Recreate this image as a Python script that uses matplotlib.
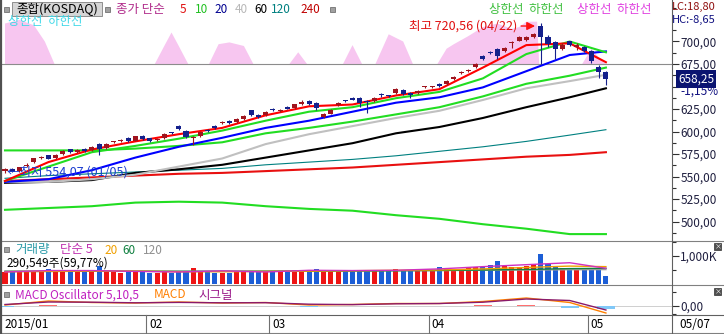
import matplotlib
matplotlib.use('Agg')
import matplotlib.pyplot as plt
from matplotlib.lines import Line2D
from matplotlib.patches import Rectangle
import numpy as np

plt.rcParams['font.family'] = ['Noto Sans CJK KR', 'DejaVu Sans']

W, H = 724, 334

# ---- daily candles (KOSDAQ, 2015-01-05 .. 2015-05-07) ----
opens = [556.0, 558.5, 556.0, 561.5, 566.0, 570.5, 573.5, 571.0, 574.5, 580.0,
         577.5, 581.0, 579.0, 586.0, 582.0, 588.0, 589.0, 592.5, 590.0, 595.5,
         592.5, 590.5, 593.0, 598.5, 606.0, 601.0, 592.5, 595.0, 602.0, 606.0,
         609.5, 611.5, 610.5, 614.0, 623.5, 618.0, 618.5, 625.0, 623.0, 627.5,
         626.0, 631.0, 633.5, 632.0, 616.5, 620.0, 629.0, 634.5, 637.0, 637.0,
         633.0, 634.0, 642.0, 639.5, 643.0, 646.0, 643.0, 643.0, 649.0, 649.0,
         653.0, 653.0, 658.5, 665.0, 667.0, 671.5, 684.0, 688.0, 692.0, 689.0,
         698.0, 701.0, 701.5, 705.0, 717.0, 705.0, 699.0, 692.0, 700.0, 693.5,
         694.0, 689.0, 672.0, 666.0]
closes = [558.0, 555.5, 560.0, 563.0, 570.0, 571.0, 570.0, 574.0, 578.0, 577.0,
          580.0, 578.5, 583.0, 580.5, 586.5, 588.5, 590.5, 589.0, 594.5, 592.0,
          590.0, 591.0, 597.0, 598.0, 602.5, 594.0, 593.5, 599.0, 600.5, 603.5,
          610.5, 609.5, 613.5, 617.5, 618.5, 616.0, 622.0, 623.5, 623.5, 625.5,
          630.0, 633.0, 631.0, 626.0, 619.5, 623.5, 631.5, 633.5, 635.5, 632.0,
          632.5, 637.5, 640.5, 639.0, 647.0, 642.0, 641.0, 645.0, 649.5, 649.5,
          650.5, 656.0, 660.5, 666.0, 668.0, 675.0, 681.0, 687.0, 684.0, 693.0,
          698.5, 705.0, 704.5, 708.0, 705.0, 697.0, 692.0, 696.0, 696.5, 696.0,
          689.0, 678.0, 666.0, 658.25]
highs = [559.5, 559.5, 561.0, 564.5, 571.0, 572.5, 574.0, 575.0, 579.0, 581.0,
         581.0, 582.0, 584.0, 587.0, 587.5, 590.0, 592.0, 593.5, 595.5, 596.5,
         593.0, 592.5, 598.0, 600.0, 607.0, 602.0, 595.0, 600.0, 603.0, 607.0,
         612.0, 612.5, 614.5, 618.5, 624.0, 619.0, 623.0, 626.0, 625.0, 628.5,
         631.0, 634.5, 634.5, 633.0, 621.0, 624.5, 632.5, 635.5, 638.0, 638.0,
         634.5, 638.5, 642.5, 641.0, 648.0, 647.0, 644.0, 646.0, 651.0, 651.0,
         654.0, 657.0, 661.5, 667.5, 669.5, 676.0, 685.0, 690.0, 693.0, 694.0,
         700.5, 706.0, 706.5, 709.0, 720.56, 707.0, 700.0, 698.0, 701.0, 698.5,
         695.0, 691.0, 674.0, 667.0]
lows = [554.07, 555.0, 555.5, 560.5, 565.0, 569.5, 569.0, 570.0, 573.5, 576.0,
        576.5, 577.5, 578.0, 574.0, 581.0, 587.0, 588.0, 588.0, 589.0, 591.0,
        588.5, 589.0, 592.0, 597.0, 601.5, 592.5, 585.0, 594.0, 599.0, 602.5,
        608.5, 608.5, 609.5, 613.0, 617.5, 615.0, 617.5, 622.5, 622.0, 624.5,
        625.0, 630.0, 630.0, 624.0, 615.5, 619.0, 628.0, 632.5, 634.5, 627.0,
        621.0, 633.0, 638.0, 638.0, 642.0, 640.5, 637.5, 642.0, 648.0, 648.0,
        649.5, 652.0, 657.5, 664.0, 666.0, 670.5, 679.0, 686.0, 681.0, 688.0,
        693.0, 700.0, 701.0, 704.0, 675.0, 694.0, 681.0, 690.5, 695.0, 690.5,
        688.5, 676.0, 660.0, 652.0]
volumes_k = [420, 430, 440, 450, 470, 480, 550, 470, 440, 430,
             420, 450, 470, 640, 480, 420, 410, 430, 440, 430,
             410, 400, 420, 400, 450, 480, 560, 440, 420, 400,
             410, 400, 420, 430, 450, 420, 440, 430, 460, 480,
             500, 470, 490, 520, 480, 470, 460, 480, 500, 470,
             460, 480, 500, 490, 520, 480, 470, 490, 500, 510,
             620, 520, 540, 550, 560, 600, 620, 680, 820, 640,
             600, 620, 650, 700, 1060, 700, 600, 560, 580, 560,
             540, 530, 500, 290.5]

# ---- overlay lines, read at every 6th session ----
sample_idx = [0, 6, 12, 18, 24, 30, 36, 42, 48, 54, 60, 66, 72, 78, 83]
ma5 = [545, 566, 580, 589, 597, 604, 618, 628, 630, 640, 647, 671, 696, 698, 677]
ma10 = [545, 561, 577, 584, 592, 601, 612, 622, 627, 637, 644, 659, 686, 700, 688]
ma20 = [544, 547, 557, 571, 583, 593, 604, 612, 622, 632, 638, 649, 667, 685, 689]
ma40 = [544, 544, 547, 552, 561, 570, 586, 597, 606, 615, 623, 635, 648, 656, 663]
ma60 = [543, 544, 546, 554, 558, 563, 571, 579, 587, 598, 605, 615, 627, 638, 648]
ma120 = [548, 551, 553, 555, 557, 559, 563, 566, 569, 573, 578, 583, 589, 596, 602]
ma240 = [545, 547, 549, 551, 553, 554, 556, 558, 560, 563, 566, 569, 572, 574, 577]
band_up = [579, 579, 579, 581, 584, 588, 598, 604, 611, 619, 627, 639, 653, 662, 671]
band_low = [513, 515, 517, 521, 522, 521, 517, 514, 512, 507, 503, 497, 492, 486, 486]

# pink band above the 675 line
pink_idx = [0, 2, 4, 5.5, 7, 20.5, 22, 23, 24, 25.5, 28, 29.5, 31, 33, 34.5,
            39, 40.5, 42, 46.5, 48, 49.5, 51, 53, 55, 56.5, 59.5, 61, 62, 64,
            66, 68, 70, 71, 72, 73.5, 73.8, 79.5, 81, 82.5, 83]
pink_val = [720, 724, 718, 700, 672, 672, 695, 710, 695, 672, 672, 697, 699, 695, 672,
            672, 688, 672, 672, 696, 672, 672, 708, 700, 672, 672, 692, 697, 706,
            716, 720, 714, 716, 722, 722, 672, 672, 692, 678, 675]

# volume moving averages (K)
vma5 = [430, 480, 480, 450, 430, 470, 430, 490, 480, 490, 540, 620, 690, 760, 560]
vma20 = [440, 450, 460, 460, 440, 440, 450, 460, 475, 490, 500, 540, 590, 640, 620]
vma60 = [450, 450, 455, 455, 450, 450, 455, 460, 465, 475, 485, 500, 520, 550, 560]
vma120 = [460, 460, 460, 460, 460, 460, 460, 465, 470, 475, 480, 490, 500, 510, 515]

# MACD oscillator 5,10,5
macd = [1.0, 5.0, 3.5, 3.0, 4.0, 3.0, 3.5, 1.0, 1.5, 2.5, 2.5, 4.5, 8.0, 3.5, -7.0]
signal = [1.5, 4.0, 3.8, 3.2, 3.6, 3.2, 3.3, 1.8, 1.4, 2.2, 2.5, 3.8, 7.0, 5.5, -4.0]
osc = [-0.5, 1.0, -0.3, -0.2, 0.4, -0.2, 0.2, -0.8, 0.1, 0.3, 0.2, 0.7, 1.0, -2.0, -3.0]

price_ticks = [500, 525, 550, 575, 600, 625, 650, 675, 700]
month_starts = [0, 20, 37, 59, 81]
month_labels = ['2015/01', '02', '03', '04', '05']

last_price = '658,25'
last_change = '-1,15%'

# ---- geometry in pixels ----
PITCH = 7.24
X0 = 5
AX_RIGHT = 672
KFS = 9  # korean label size


def px2idx(x):
    return (x - X0) / PITCH


def fig_axes(x0, y0, x1, y1):
    return fig.add_axes([x0 / W, 1 - y1 / H, (x1 - x0) / W, (y1 - y0) / H])


def ptext(x, y, s, color, size=8.5, **kw):
    fig.text(x / W, 1 - y / H, s, color=color, fontsize=size,
             va='center', ha='left', **kw)


def hline(y, x0=0, x1=W, color='#808080', lw=0.8):
    fig.add_artist(Line2D([x0 / W, x1 / W], [1 - y / H, 1 - y / H],
                          color=color, lw=lw))


def vline(x, y0, y1, color='#606060', lw=0.8):
    fig.add_artist(Line2D([x / W, x / W], [1 - y0 / H, 1 - y1 / H],
                          color=color, lw=lw))


def square(x, y, size=5, fc='#a0a0a0'):
    fig.add_artist(Rectangle((x / W, 1 - (y + size) / H), size / W, size / H,
                             fc=fc, ec='#606060', lw=0.5))


def right_axis(a, major, labels, minor):
    a.yaxis.tick_right()
    a.set_yticks(major)
    a.set_yticklabels(labels)
    a.set_yticks(minor, minor=True)
    a.tick_params(axis='y', which='major', length=5, width=0.8, pad=1,
                  labelsize=8.5, colors='#303030', labelcolor='#202040')
    a.tick_params(axis='y', which='minor', length=3, width=0.8, colors='#303030')
    a.set_xticks([])
    for s in ['top', 'left', 'bottom', 'right']:
        a.spines[s].set_visible(False)


fig = plt.figure(figsize=(W / 100, H / 100), dpi=100, facecolor='white')

xlim = (px2idx(0), px2idx(AX_RIGHT))
idx = np.arange(len(closes))
up = np.array(closes) >= np.array(opens)

# ---------------- price panel ----------------
ax = fig_axes(0, 0, AX_RIGHT, 241)
ax.set_xlim(*xlim)
ax.set_ylim(700 - (241 - 41.5) / 0.9, 700 + 41.5 / 0.9)

ax.fill_between(pink_idx, 675, pink_val, where=np.array(pink_val) >= 675,
                interpolate=True, color='#f7c6f0', lw=0, zorder=0.5)
ax.axhline(675, color='#8c8c8c', lw=0.8, zorder=1)

ax.plot(sample_idx, band_low, color='#22dd22', lw=1.5, zorder=2)
ax.plot(sample_idx, ma240, color='#e81010', lw=1.5, zorder=2)
ax.plot(sample_idx, ma120, color='#008080', lw=0.8, zorder=2)
ax.plot(sample_idx, ma60, color='black', lw=1.5, zorder=2)
ax.plot(sample_idx, ma40, color='#c0c0c0', lw=1.5, zorder=2)
ax.plot(sample_idx, band_up, color='#22dd22', lw=1.5, zorder=2)
ax.plot(sample_idx, ma20, color='#0000ff', lw=1.5, zorder=2)
ax.plot(sample_idx, ma10, color='#22dd22', lw=1.5, zorder=2)
ax.plot(sample_idx, ma5, color='#ff0000', lw=1.5, zorder=2)

ccol = np.where(up, '#a0141e', '#14208c')
ax.vlines(idx, lows, highs, colors=ccol, lw=0.8, zorder=3)
body_lo = np.minimum(opens, closes)
body_h = np.maximum(np.abs(np.array(closes) - np.array(opens)), 1.1)
ax.bar(idx, body_h, bottom=body_lo, width=0.7, color=ccol, lw=0, zorder=3)

right_axis(ax, price_ticks,
           ['' if v == 650 else f'{v},00' for v in price_ticks],
           np.arange(487.5, 740, 25))

# high / low markers
ax.text(px2idx(517), 717.2, '최고 720,56 (04/22)', color='#e01010', fontsize=KFS,
        ha='right', va='center', zorder=4)
ax.annotate('', xy=(73.6, 717.2), xytext=(70.9, 717.2),
            arrowprops=dict(arrowstyle='-|>', color='#ff1010', lw=1.0,
                            mutation_scale=12), zorder=4)
ax.text(px2idx(7), 700 - (172 - 41.5) / 0.9, '←최저 554,07 (01/05)',
        color='#1a3cd0', fontsize=KFS, ha='left', va='center', zorder=4)

# ---------------- volume panel ----------------
axv = fig_axes(0, 242, AX_RIGHT, 285)
axv.set_xlim(*xlim)
px_per_k = 28.3 / 1000
axv.set_ylim(-1 / px_per_k, (284 - 242) / px_per_k)
vcol = np.where(up, '#ee1414', '#1c5ed6')
axv.bar(idx, volumes_k, width=0.7, color=vcol, lw=0, zorder=2)
axv.plot(sample_idx, vma120, color='#a0a0a0', lw=1.0, zorder=3)
axv.plot(sample_idx, vma60, color='#108040', lw=1.0, zorder=3)
axv.plot(sample_idx, vma20, color='#f0a000', lw=1.0, zorder=3)
axv.plot(sample_idx, vma5, color='#d030c0', lw=1.0, zorder=3)
right_axis(axv, [1000], ['1,000K'], [500, 1500])

# ---------------- MACD panel ----------------
axm = fig_axes(0, 286, AX_RIGHT, 315)
axm.set_xlim(*xlim)
axm.set_ylim(-9, 20)
axm.axhline(0, color='#c8c8c8', lw=0.6, zorder=1)
ocol = ['#ff7070' if v >= 0 else '#80c8f8' for v in osc]
axm.bar(sample_idx, osc, width=2.5, color=ocol, lw=0, zorder=2)
axm.plot(sample_idx, macd, color='#ff8000', lw=1.0, zorder=3)
axm.plot(sample_idx, signal, color='#8a1a6a', lw=1.0, zorder=3)
right_axis(axm, [0], ['0,00'], [-8, 14])

# ---------------- frame / separators ----------------
hline(241)
hline(285)
hline(315, color='#606060')
hline(333, color='#808080')
vline(AX_RIGHT, 0, 334)
vline(0.8, 0, 334, color='#505050', lw=1.6)
for m, lab in zip(month_starts, month_labels):
    xpx = X0 + (m - 0.5) * PITCH
    if m > 0:
        vline(xpx, 315, 334, color='#707070')
    ptext(max(xpx, 0) + 3, 325, lab, 'black', size=8.5)
ptext(679, 325, '05/07', 'black', size=8.5)

# ---------------- header texts ----------------
square(4, 7)
fig.add_artist(Rectangle((12 / W, 1 - 16 / H), 90 / W, 14 / H,
                         fc='#d6d6d6', ec='#808080', lw=0.6))
ptext(16, 9.5, '종합(KOSDAQ)', 'black', size=KFS)
square(105, 7)
ptext(116, 9.5, '종가 단순', '#b02a8a', size=KFS)
for xx, s, c in [(180, '5', '#e01010'), (195, '10', '#20c020'),
                 (214, '20', '#000090'), (235, '40', '#b8b8b8'),
                 (254, '60', 'black'), (271, '120', '#008080'),
                 (300, '240', '#c00000')]:
    ptext(xx, 9.5, s, c, size=8.5)
square(330, 7)
ptext(8, 22, '상한선  하한선', '#40d8e8', size=KFS)
ptext(489, 10, '상한선  하한선', '#40c040', size=KFS)
ptext(577, 10, '상한선  하한선', '#e040e0', size=KFS)
ptext(672, 7, 'LC:18,80', '#901010', size=8)
ptext(672, 19.5, 'HC:-8,65', '#101080', size=8)

# current price box
ptext(678, 79, last_price, 'white', size=8.5,
      bbox=dict(boxstyle='square,pad=0.2', fc='#0a1470', ec='none'))
ptext(680, 91, last_change, '#101080', size=8.5)

# volume legend
square(4, 247)
ptext(15, 250, '거래량', '#2a9aa8', size=KFS)
ptext(60, 250, '단순 5', '#c030b0', size=KFS)
ptext(104, 250, '20', '#f0a000', size=8.5)
ptext(122, 250, '60', '#108040', size=8.5)
ptext(143, 250, '120', '#909090', size=8.5)
ptext(6, 263, '290,549주(59,77%)', 'black', size=8.5)

# MACD legend
square(4, 292)
ptext(15, 295, 'MACD Oscillator 5,10,5', '#c020c0', size=8.5)
ptext(154, 295, 'MACD', '#ff7f00', size=8.5)
ptext(198, 295, '시그널', '#9a1a8a', size=KFS)

# small close buttons
for yy in [243, 288]:
    fig.add_artist(Rectangle((714 / W, 1 - (yy + 7) / H), 7 / W, 7 / H,
                             fc='#505050', ec='#303030', lw=0.5))
    ptext(714.5, yy + 3.5, '×', 'white', size=5)

fig.savefig('out.png', dpi=100, facecolor='white')
